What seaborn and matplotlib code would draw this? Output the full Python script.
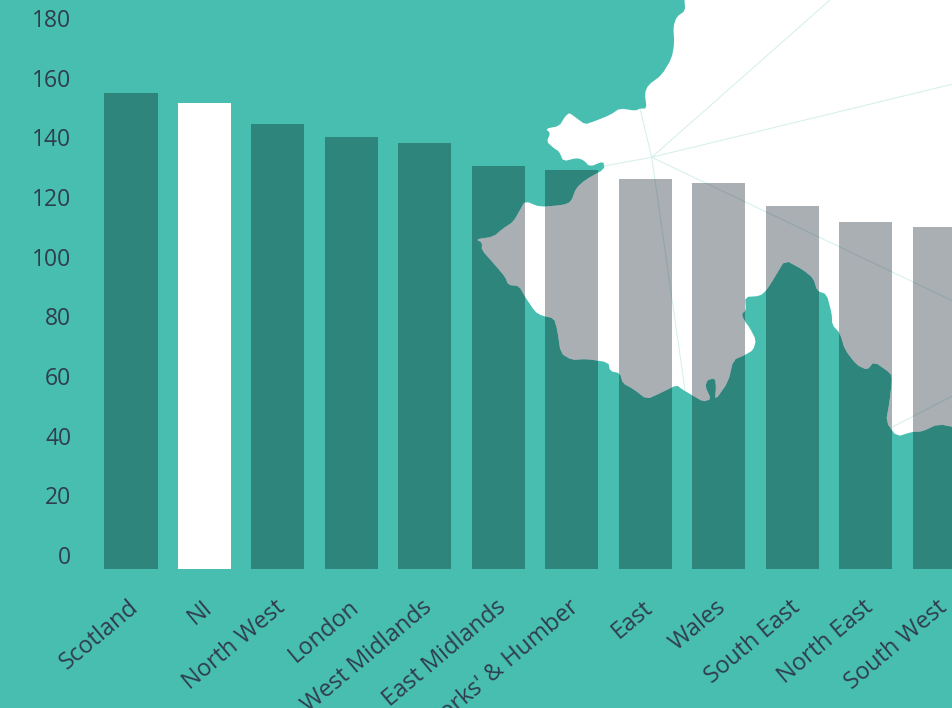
import numpy as np
import pandas as pd
import matplotlib
matplotlib.use("Agg")
import matplotlib.pyplot as plt
import seaborn as sns
from matplotlib.path import Path
from matplotlib.patches import PathPatch
from matplotlib.transforms import Affine2D, ScaledTranslation

# chart data
regions = ["Scotland", "NI", "North West", "London", "West Midlands", "East Midlands",
           "Yorks' & Humber", "East", "Wales", "South East", "North East", "South West"]
values = [159.6, 156.2, 149.2, 144.8, 142.8, 135.1, 133.8, 130.7, 129.4, 121.7, 116.3, 114.6]
bar_colors = ["#2E857C", "#FFFFFF"] + ["#2E857C"] * 10
y_ticks = list(range(0, 181, 20))

# background map outline, in picture pixels (decoration, not data)
map_outline = [
    (684.3, -2), (685.3, 10.7), (676.7, 16.7), (673.3, 26.7), (674.3, 43.3), (671.7, 58.3),
    (661.7, 75), (648.3, 85), (644.7, 93.3), (646.7, 108.3), (640, 108.7), (635, 110.7),
    (620, 108.3), (610, 115), (593.3, 121.7), (585, 124.3), (576.7, 118.3), (569.3, 112.7),
    (565, 116.7), (559.3, 126), (545.7, 128.7), (550.3, 133.3), (546.7, 141.7), (553.3, 147.7),
    (559.3, 151.7), (563.3, 161.3), (576.7, 158), (583.3, 160), (590, 166.7), (603.3, 161.3),
    (604.7, 169), (585, 180), (576, 188.3), (571, 201.7), (563.3, 205), (540, 207), (525, 201),
    (520, 210), (513.3, 221.7), (503.3, 228.3), (493.3, 236.7), (476, 239.3), (482, 242.7),
    (481.7, 250), (495, 265), (505, 276.7), (508.3, 285), (519, 286), (525, 296.7),
    (535, 311.7), (541.7, 315.7), (554, 318.3), (557.3, 330), (560.7, 353.3), (571.7, 360),
    (586.7, 359), (608.3, 362.3), (610, 371), (620, 373.3), (622.7, 383.3), (633.3, 389),
    (646.7, 399.3), (660, 393.3), (676.7, 385), (681.7, 389), (691.7, 395), (703.3, 401.7),
    (711, 399), (705.3, 386.7), (707.3, 380), (715, 378.3), (716, 386.7), (715, 400.7),
    (728.3, 381.7), (733.3, 360), (745, 355), (753.3, 350), (756, 340), (750, 328.3),
    (744, 320), (741.7, 314), (746, 310), (745, 297), (760, 296), (766.7, 290), (775, 276.7),
    (785, 260), (803.3, 270), (813.3, 278.3), (817.3, 291), (826.7, 294.3), (831.7, 313.3),
    (832.3, 325), (840, 333.3), (845, 350), (856.7, 365), (867.3, 370), (874, 361.7),
    (890.7, 373.3), (892, 380), (889.3, 403.3), (886, 421.7), (896.7, 436.7), (912.7, 431.7),
    (921.7, 431.7), (938.3, 424), (960, 428.3), (2000, 440), (2000, -200), (684, -200),
]
map_lines = [
    ((651.7, 157.3), (830, 0)), ((651.7, 157.3), (953, 84)), ((651.7, 157.3), (640, 108.7)),
    ((651.7, 157.3), (604, 166)), ((651.7, 157.3), (685, 390)), ((651.7, 157.3), (953, 301)),
    ((891.7, 427.3), (953, 395.7)),
]


def smooth(points, passes=1):
    # corner cutting so the coast does not look polygonal
    pts = np.array(points, dtype=float)
    for _ in range(passes):
        nxt = np.roll(pts, -1, axis=0)
        pts = np.column_stack([0.8 * pts + 0.2 * nxt, 0.2 * pts + 0.8 * nxt]).reshape(-1, 2)
    return pts


W, H = 953, 708
sns.set_theme(style="white")
plt.rcParams["font.family"] = ["Open Sans", "DejaVu Sans"]
text_color = "#2F3D4E"
teal = "#48BEB0"

df = pd.DataFrame({"region": regions, "value": values})

fig = plt.figure(figsize=(W / 100, H / 100), dpi=100, facecolor=teal)
ax = fig.add_axes([95 / W, (H - 569) / H, (W - 95) / W, 569 / H])
ax.patch.set_visible(False)

# dark bars sit under the map
sns.barplot(data=df, x="region", y="value", hue="region", palette=bar_colors, legend=False,
            width=0.722, saturation=1, linewidth=0, ax=ax, zorder=1)

px = Affine2D().scale(1, -1).translate(0, H)
map_patch = PathPatch(Path(smooth(map_outline), closed=False), facecolor="white", edgecolor="none",
                      transform=px, zorder=2, clip_on=False)
ax.add_patch(map_patch)
for (x0, y0), (x1, y1) in map_lines:
    ax.plot([x0, x1], [y0, y1], color="#D3EFEA", lw=0.7, transform=px, zorder=3, clip_on=False)

# same bars again, seen through the map as grey
n_before = len(ax.patches)
sns.barplot(data=df, x="region", y="value", color="#2A3742", alpha=0.4, width=0.722,
            saturation=1, linewidth=0, ax=ax, zorder=4)
for bar in ax.patches[n_before:]:
    bar.set_clip_path(map_patch)

ax.set_xlim((95 - 131) / 73.47, (W - 131) / 73.47)
ax.set_ylim(0, 569 / 2.983)
ax.set_xlabel("")
ax.set_ylabel("")
ax.set_yticks(y_ticks)
ax.tick_params(axis="both", length=0, labelcolor=text_color)
ax.tick_params(axis="y", pad=17, labelsize=16.5)
ax.tick_params(axis="x", pad=19, labelsize=17)
plt.setp(ax.get_xticklabels(), rotation=40, ha="right", rotation_mode="anchor")

# tick labels in the picture sit a little above their values
up = ScaledTranslation(0, 14 / 100, fig.dpi_scale_trans)
for lab in ax.get_yticklabels():
    lab.set_transform(lab.get_transform() + up)
left = ScaledTranslation(-3 / 100, 0, fig.dpi_scale_trans)
for lab in ax.get_xticklabels():
    lab.set_transform(lab.get_transform() + left)
sns.despine(ax=ax, left=True, bottom=True)

fig.savefig("out.png", dpi=100, facecolor=teal)
